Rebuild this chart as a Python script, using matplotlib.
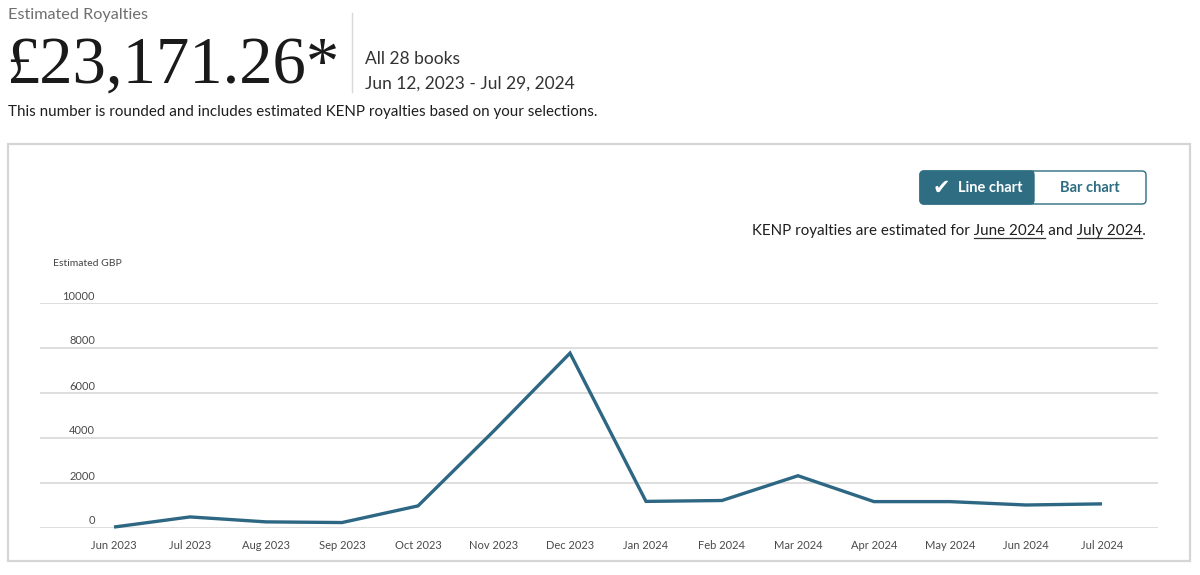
import matplotlib
matplotlib.use("Agg")
import matplotlib.pyplot as plt
import matplotlib.transforms as mtransforms
from matplotlib.patches import Rectangle, FancyBboxPatch

months = ['Jun 2023', 'Jul 2023', 'Aug 2023', 'Sep 2023', 'Oct 2023', 'Nov 2023',
          'Dec 2023', 'Jan 2024', 'Feb 2024', 'Mar 2024', 'Apr 2024', 'May 2024',
          'Jun 2024', 'Jul 2024']
royalties = [20, 470, 250, 220, 960, 4300, 7750, 1160, 1200, 2300, 1150, 1150, 1000, 1050]
y_ticks = [0, 2000, 4000, 6000, 8000, 10000]

total_text = '£23,171.26*'
books_text = 'All 28 books'
range_text = 'Jun 12, 2023 - Jul 29, 2024'
note_text = 'This number is rounded and includes estimated KENP royalties based on your selections.'

W, H = 1200, 575
TEAL = '#2e6d82'
LINE = '#2d6783'
UI = 'Lato'

plt.rcParams['font.family'] = [UI, 'DejaVu Sans']

fig = plt.figure(figsize=(W / 100, H / 100), dpi=100)
fig.patch.set_facecolor('white')
px = mtransforms.IdentityTransform()


def ftext(x, y, s, **kw):
    # place text by pixel position measured from the top-left corner
    return fig.text(x, H - y, s, transform=px, **kw)


# header
ftext(8, 15, 'Estimated Royalties', fontsize=11.7, color='#6f6f6f', va='center')
ftext(6, 83, total_text, fontsize=48, color='#1a1a1a', va='baseline',
      family=['Liberation Serif', 'DejaVu Serif'])
fig.add_artist(plt.Line2D([352, 352], [H - 13, H - 92], transform=px,
                          color='#d8d8d8', lw=1))
ftext(365, 59, books_text, fontsize=12.5, color='#333333', va='center')
ftext(365, 84, range_text, fontsize=12.5, color='#333333', va='center')
ftext(8, 112, note_text, fontsize=10.9, color='#1e1e1e', va='center')

# chart frame
fig.add_artist(Rectangle((8, H - 561), 1182, 417, transform=px, fill=False,
                         edgecolor='#d5d5d5', lw=1.6))

# toggle buttons
bx0, bx1, bmid, by0, by1 = 920, 1146, 1034, H - 204, H - 171
fig.add_artist(FancyBboxPatch((bx0, by0), bx1 - bx0, by1 - by0,
                              boxstyle='round,pad=0,rounding_size=4', transform=px,
                              facecolor='white', edgecolor=TEAL, lw=1.0))
fig.add_artist(FancyBboxPatch((bx0, by0), bmid - bx0, by1 - by0,
                              boxstyle='round,pad=0,rounding_size=4', transform=px,
                              facecolor=TEAL, edgecolor=TEAL, lw=1.0))
fig.add_artist(Rectangle((bmid - 8, by0), 8, by1 - by0, transform=px,
                         facecolor=TEAL, edgecolor='none'))
ftext(941, 188, '\u2714', fontsize=15, color='white', va='center', ha='center',
      family=['DejaVu Sans'])
ftext(958, 188, 'Line chart', fontsize=10.5, color='white', va='center',
      fontweight='bold')
ftext(1090, 188, 'Bar chart', fontsize=10.5, color=TEAL, va='center', ha='center',
      fontweight='bold')

# KENP note with underlined month links
kenp = 'KENP royalties are estimated for June 2024 and July 2024.'
KFS = 10.9
kt = ftext(1146, 235, kenp, fontsize=KFS, color='#1e1e1e', va='baseline', ha='right')
renderer = fig.canvas.get_renderer()


def text_width(s):
    t = ftext(0, 0, s, fontsize=KFS)
    w = t.get_window_extent(renderer).width
    t.remove()
    return w


x0 = kt.get_window_extent(renderer).x0
space = text_width('a a') - text_width('aa')
for before, word in [('KENP royalties are estimated for', 'June 2024'),
                     ('KENP royalties are estimated for June 2024 and', 'July 2024')]:
    ux0 = x0 + text_width(before) + space
    ux1 = x0 + text_width(before + ' ' + word)
    fig.add_artist(plt.Line2D([ux0, ux1], [H - 238, H - 238], transform=px,
                              color='#333333', lw=0.9))

# the chart itself
ax = fig.add_axes([40 / W, 1 - 527.5 / H, 1117.5 / W, 225 / H])
ax.set_facecolor('none')
x = list(range(len(months)))
ax.plot(x, royalties, color=LINE, lw=2.4, solid_joinstyle='miter',
        solid_capstyle='butt', clip_on=False, zorder=3)
ax.set_xlim(-74 / 76, len(months) - 1 + 55.5 / 76)
ax.set_ylim(0, 10000)
ax.set_yticks(y_ticks)
ax.yaxis.grid(True, color='#d4d4d4', lw=1.1)
ax.set_axisbelow(True)
ax.tick_params(axis='y', length=0, labelleft=False)
ax.set_xticks(x)
ax.set_xticklabels(months, fontsize=8, color='#4a4a4a')
ax.tick_params(axis='x', length=0, pad=9)
for s in ax.spines.values():
    s.set_visible(False)

lbl_tr = mtransforms.offset_copy(ax.get_yaxis_transform(), fig=fig, x=0, y=3,
                                 units='dots')
for v in y_ticks:
    ax.text(55 / 1117.5, v, str(v), transform=lbl_tr, ha='right', va='baseline',
            fontsize=8, color='#4a4a4a')
ftext(53, 263, 'Estimated GBP', fontsize=7.5, color='#444444', va='center')

fig.savefig('out.png', dpi=100, facecolor='white')
